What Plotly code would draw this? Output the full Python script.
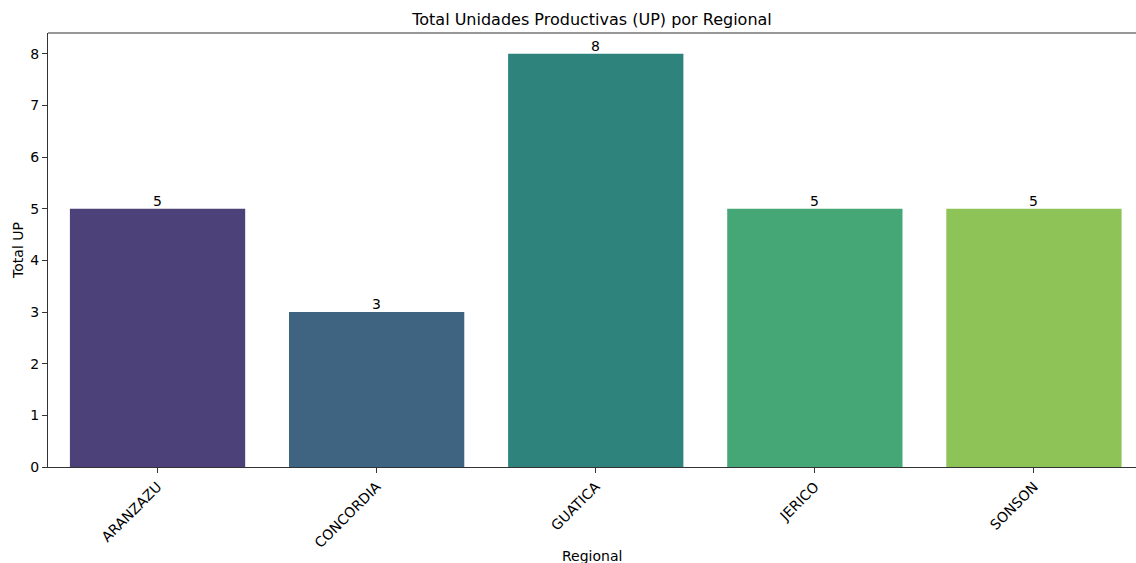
import plotly.graph_objects as go

regionales = ["ARANZAZU", "CONCORDIA", "GUATICA", "JERICO", "SONSON"]
total_up = [5, 3, 8, 5, 5]
colores = ["#4C4279", "#3E6481", "#2E837D", "#46A776", "#8EC457"]

FONT = "DejaVu Sans"
H = 563
T, B = 33, 96
PH = H - T - B

fig = go.Figure()
fig.add_trace(go.Bar(
    x=list(range(len(regionales))),
    y=total_up,
    marker=dict(color=colores, line=dict(width=0)),
    width=0.8,
    hoverinfo="skip",
))

for i, v in enumerate(total_up):
    fig.add_annotation(x=i, y=v, text=str(v), showarrow=False,
                       yanchor="bottom", yshift=-2,
                       font=dict(family=FONT, size=14, color="black"))

# x-axis title placed below rotated tick labels
fig.add_annotation(x=0.5, xref="paper", y=-(556 - (H - B)) / PH, yref="paper",
                   text="Regional", showarrow=False, yanchor="middle",
                   font=dict(family=FONT, size=14, color="black"))

fig.update_layout(
    width=1136, height=H,
    margin=dict(l=48, r=0, t=T, b=B),
    paper_bgcolor="white", plot_bgcolor="white",
    showlegend=False,
    bargap=0.2,
    font=dict(family=FONT, size=14, color="black"),
    title=dict(text="Total Unidades Productivas (UP) por Regional",
               x=0.5, xref="paper", y=1 - 19/H, yref="container",
               xanchor="center", yanchor="middle",
               font=dict(family=FONT, size=16, color="black")),
)

fig.update_xaxes(
    range=[-0.5, 4.5 - 7.5/219],
    tickmode="array", tickvals=list(range(len(regionales))), ticktext=regionales,
    tickangle=-45, ticks="outside", ticklen=5, tickcolor="#333",
    showline=True, linecolor="#333", linewidth=1.2, mirror=False,
    showgrid=False, zeroline=False, automargin=False,
    tickfont=dict(family=FONT, size=14),
)
fig.update_yaxes(
    range=[0, 8.4],
    tickmode="array", tickvals=list(range(9)),
    ticks="outside", ticklen=5, tickcolor="#333",
    showline=True, linecolor="#333", linewidth=1.2, mirror=False,
    showgrid=False, zeroline=False, automargin=False,
    tickfont=dict(family=FONT, size=14),
    title=dict(text="Total UP", standoff=3, font=dict(family=FONT, size=14)),
)

# top spine
fig.add_shape(type="line", xref="paper", yref="paper", x0=0, x1=1, y0=1, y1=1,
              line=dict(color="#333", width=1.2))

fig.write_html("out.html", config={"displayModeBar": False},
               post_script="document.body.style.margin='0';document.body.style.overflow='hidden';")
